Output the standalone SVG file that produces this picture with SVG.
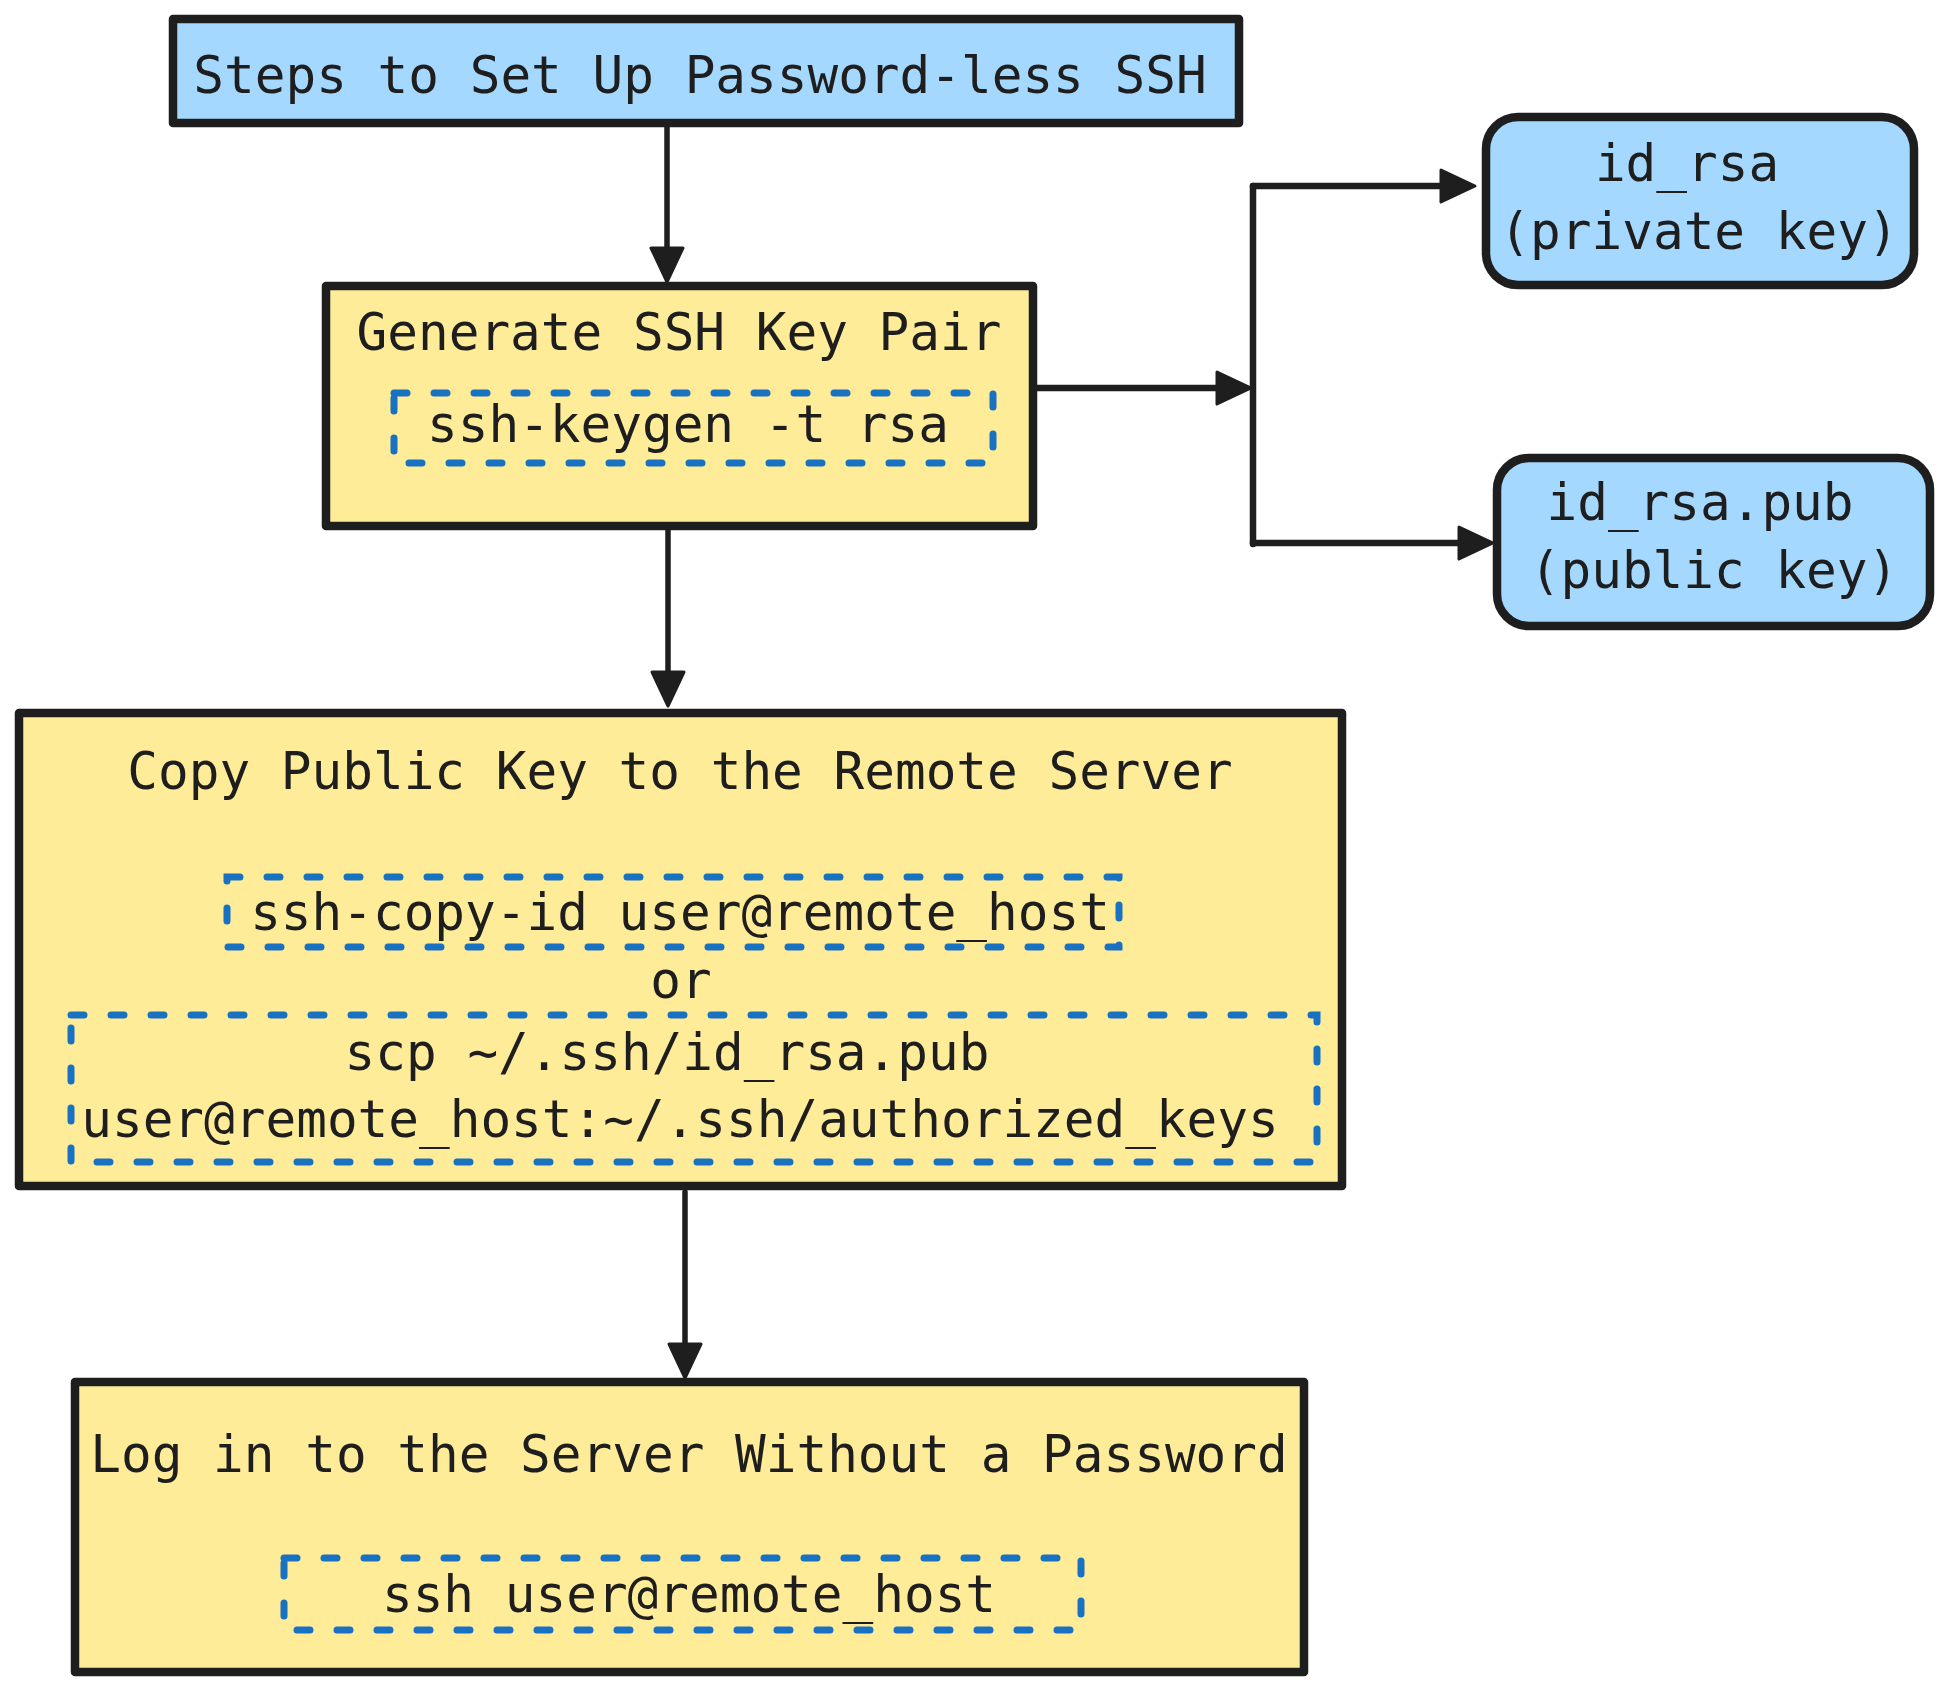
<svg xmlns="http://www.w3.org/2000/svg" width="1947" height="1691" viewBox="0 0 1947 1691">
  <style>
    .box { stroke: #1e1e1e; stroke-width: 8.5; stroke-linejoin: round; }
    .blue { fill: #a5d8ff; }
    .yellow { fill: #ffec99; }
    .dash { fill: none; stroke: #1971c2; stroke-width: 7; stroke-dasharray: 13 27; stroke-linecap: round; }
    .t { font-family: "DejaVu Sans Mono", "Liberation Mono", monospace; font-size: 51px; fill: #1e1e1e; text-anchor: middle; }
    .conn { fill: none; stroke: #1e1e1e; stroke-width: 5.5; stroke-linecap: round; stroke-linejoin: round; }
    .thick { stroke-width: 6.5; }
  </style>
  <defs>
    <marker id="arrow" markerUnits="userSpaceOnUse" markerWidth="36" markerHeight="34" refX="14" refY="16" orient="auto" overflow="visible">
      <path d="M0,0 L34,16 L0,32 Z" fill="#1e1e1e" stroke="#1e1e1e" stroke-width="3" stroke-linejoin="round"/>
    </marker>
  </defs>
  <rect width="1947" height="1691" fill="#ffffff"/>

  <g id="connectors">
    <path class="conn" d="M667,124 L667,262" marker-end="url(#arrow)"/>
    <path class="conn thick" d="M1033,388 L1231,388" marker-end="url(#arrow)"/>
    <path class="conn thick" d="M1253,186 L1253,544"/>
    <path class="conn thick" d="M1253,186 L1455,186" marker-end="url(#arrow)"/>
    <path class="conn thick" d="M1253,543 L1473,543" marker-end="url(#arrow)"/>
    <path class="conn" d="M668,518 L668,686" marker-end="url(#arrow)"/>
    <path class="conn" d="M685,1192 L685,1358" marker-end="url(#arrow)"/>
  </g>

  <g id="title">
    <rect class="box blue" x="173" y="19" width="1066" height="104"/>
    <text class="t" x="700" y="93">Steps to Set Up Password-less SSH</text>
  </g>

  <g id="generate">
    <rect class="box yellow" x="326" y="286" width="707" height="240"/>
    <text class="t" x="679" y="350">Generate SSH Key Pair</text>
    <rect class="dash" x="394" y="393" width="599" height="70"/>
    <text class="t" x="688" y="442">ssh-keygen -t rsa</text>
  </g>

  <g id="id_rsa">
    <rect class="box blue" x="1486" y="117" width="428" height="168" rx="32" ry="32"/>
    <text class="t" x="1687" y="181">id_rsa</text>
    <text class="t" x="1699" y="249">(private key)</text>
  </g>

  <g id="id_rsa_pub">
    <rect class="box blue" x="1497" y="458" width="433" height="168" rx="32" ry="32"/>
    <text class="t" x="1700" y="520">id_rsa.pub</text>
    <text class="t" x="1714" y="588">(public key)</text>
  </g>

  <g id="copy">
    <rect class="box yellow" x="19" y="713" width="1323" height="473"/>
    <text class="t" x="680" y="789">Copy Public Key to the Remote Server</text>
    <rect class="dash" x="227" y="877" width="892" height="70"/>
    <text class="t" x="680" y="930">ssh-copy-id user@remote_host</text>
    <text class="t" x="681" y="998">or</text>
    <rect class="dash" x="71" y="1015" width="1246" height="147"/>
    <text class="t" x="667" y="1070">scp ~/.ssh/id_rsa.pub</text>
    <text class="t" x="680" y="1137">user@remote_host:~/.ssh/authorized_keys</text>
  </g>

  <g id="login">
    <rect class="box yellow" x="75" y="1382" width="1229" height="290"/>
    <text class="t" x="689" y="1472">Log in to the Server Without a Password</text>
    <rect class="dash" x="284" y="1558" width="797" height="72"/>
    <text class="t" x="689" y="1612">ssh user@remote_host</text>
  </g>
</svg>
